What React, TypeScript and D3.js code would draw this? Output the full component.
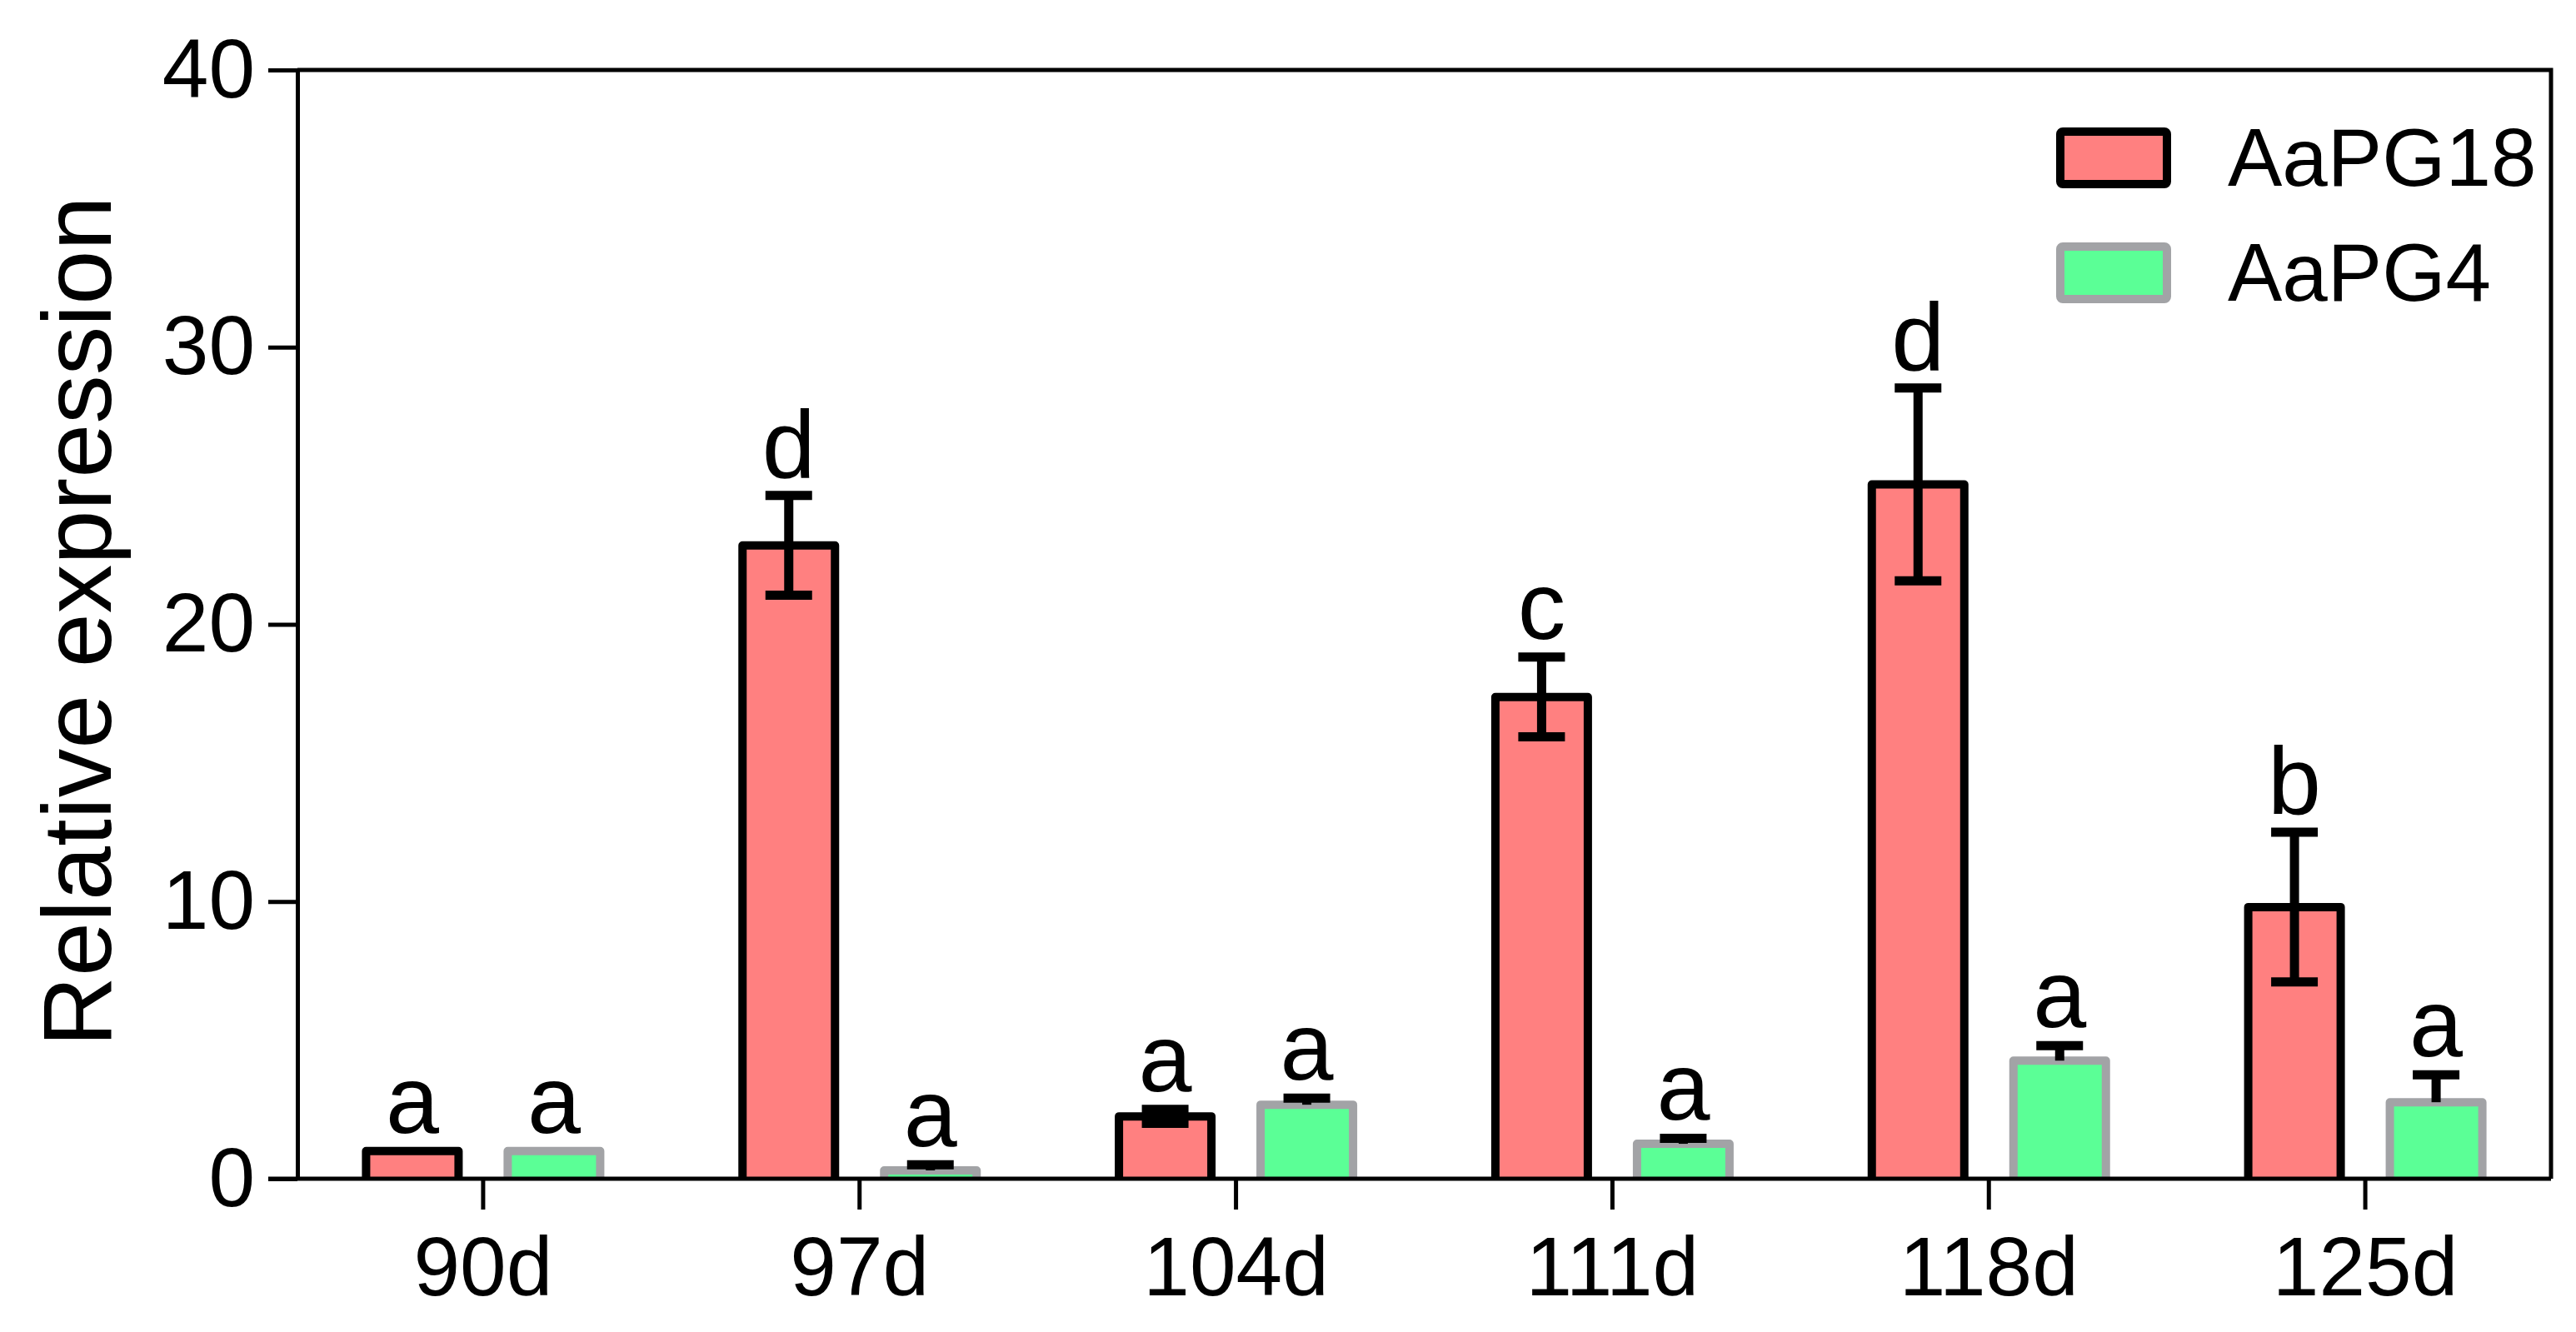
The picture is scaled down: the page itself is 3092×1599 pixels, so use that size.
import * as React from "react";
import * as d3 from "d3";

const categories = ["90d", "97d", "104d", "111d", "118d", "125d"];
const seriesNames = ["AaPG18", "AaPG4"];
const pg18Mean = [1.0, 22.85, 2.25, 17.38, 25.05, 9.8];
const pg18Err = [0, 1.8, 0.25, 1.44, 3.48, 2.7];
const pg18Letters = ["a", "d", "a", "c", "d", "b"];
const pg4Mean = [1.0, 0.3, 2.67, 1.26, 4.26, 2.76];
const pg4Err = [0, 0.2, 0.24, 0.2, 0.54, 0.99];
const pg4Letters = ["a", "a", "a", "a", "a", "a"];
const yTicks = [0, 10, 20, 30, 40];

const FONT = "'Liberation Sans', Arial, Helvetica, sans-serif";

function drawChart(svgRef) {
  const width = 3092;
  const height = 1599;
  const left = 357, right = 3062, top = 84, bottom = 1415;

  const svg = d3.select(svgRef.current)
    .attr("width", width)
    .attr("height", height)
    .attr("font-family", FONT);

  svg.selectAll("*").remove();

  const x = d3.scaleBand().domain(categories).range([354, 3065]);
  const xs = d3.scaleBand().domain(seriesNames).range([-170, 170]);
  const y = d3.scaleLinear().domain([0, 40]).range([bottom, top]);
  const barW = 111;

  const series = [
    { name: seriesNames[0], mean: pg18Mean, err: pg18Err, letters: pg18Letters, fill: "#FF8080", stroke: "#000000", both: true },
    { name: seriesNames[1], mean: pg4Mean, err: pg4Err, letters: pg4Letters, fill: "#5BFF96", stroke: "#A2A3A6", both: false },
  ];

  const g = svg.append("g");

  series.forEach((s) => {
    const rows = categories.map((c, i) => ({ c, v: s.mean[i], e: s.err[i], l: s.letters[i] }));
    const cx = (d) => x(d.c) + x.bandwidth() / 2 + xs(s.name) + xs.bandwidth() / 2;

    // bars (open at the bottom so the stroke doesn't sit on the axis)
    g.selectAll(null)
      .data(rows)
      .enter()
      .append("path")
      .attr("d", (d) => `M${cx(d) - barW / 2},${y(0)}V${y(d.v)}H${cx(d) + barW / 2}V${y(0)}`)
      .attr("fill", s.fill)
      .attr("stroke", s.stroke)
      .attr("stroke-width", 10)
      .attr("stroke-linejoin", "round");

    // error bars
    const eb = g.selectAll(null)
      .data(rows.filter((d) => d.e > 0))
      .enter()
      .append("g")
      .attr("stroke", "#000")
      .attr("stroke-width", 11);
    eb.append("line")
      .attr("x1", cx).attr("x2", cx)
      .attr("y1", (d) => y(s.both ? d.v - d.e : d.v))
      .attr("y2", (d) => y(d.v + d.e));
    eb.append("line")
      .attr("x1", (d) => cx(d) - 28).attr("x2", (d) => cx(d) + 28)
      .attr("y1", (d) => y(d.v + d.e)).attr("y2", (d) => y(d.v + d.e));
    if (s.both) {
      eb.append("line")
        .attr("x1", (d) => cx(d) - 28).attr("x2", (d) => cx(d) + 28)
        .attr("y1", (d) => y(d.v - d.e)).attr("y2", (d) => y(d.v - d.e));
    }

    // significance letters
    g.selectAll(null)
      .data(rows)
      .enter()
      .append("text")
      .text((d) => d.l)
      .attr("x", cx)
      .attr("y", (d) => y(d.v + d.e) - 22)
      .attr("text-anchor", "middle")
      .attr("font-size", 115)
      .attr("fill", "#000");
  });

  // y axis
  const ya = svg.append("g")
    .attr("transform", `translate(${left},0)`)
    .call(d3.axisLeft(y).tickValues(yTicks).tickSize(35).tickSizeOuter(0).tickPadding(16));
  ya.attr("font-family", FONT).attr("font-size", 100);
  ya.selectAll("path, line").attr("stroke", "#000").attr("stroke-width", 5);
  ya.selectAll("text").attr("fill", "#000");

  // x axis
  const xa = svg.append("g")
    .attr("transform", `translate(0,${bottom})`)
    .call(d3.axisBottom(x).tickSize(37).tickSizeOuter(0).tickPadding(32));
  xa.select(".domain").attr("d", `M${left - 35},0H${right}`);
  xa.attr("font-family", FONT).attr("font-size", 100);
  xa.selectAll("path, line").attr("stroke", "#000").attr("stroke-width", 5);
  xa.selectAll("text").attr("fill", "#000");

  // frame: top and right
  svg.append("path")
    .attr("d", `M${left},${top}H${right}V${bottom}`)
    .attr("fill", "none")
    .attr("stroke", "#000")
    .attr("stroke-width", 5);

  // y title
  svg.append("text")
    .text("Relative expression")
    .attr("transform", `translate(133,746) rotate(-90)`)
    .attr("text-anchor", "middle")
    .attr("font-size", 117)
    .attr("fill", "#000");

  // legend
  const lg = svg.append("g")
    .selectAll("g")
    .data(series)
    .enter()
    .append("g")
    .attr("transform", (d, i) => `translate(2473,${158 + i * 138})`);
  lg.append("rect")
    .attr("width", 128).attr("height", 63)
    .attr("rx", 3)
    .attr("fill", (d) => d.fill)
    .attr("stroke", (d) => d.stroke)
    .attr("stroke-width", 10);
  lg.append("text")
    .text((d) => d.name)
    .attr("x", 201)
    .attr("y", 65)
    .attr("font-size", 98)
    .attr("fill", "#000");
}

const App = () => {
  const svgRef = React.useRef(null);

  React.useEffect(() => {
    drawChart(svgRef);
  }, [svgRef]);

  return (
    <div style={{ position: "absolute", left: 0, top: 0, background: "#fff" }}>
      <svg ref={svgRef} style={{ display: "block" }} />
    </div>
  );
};

export default App;
